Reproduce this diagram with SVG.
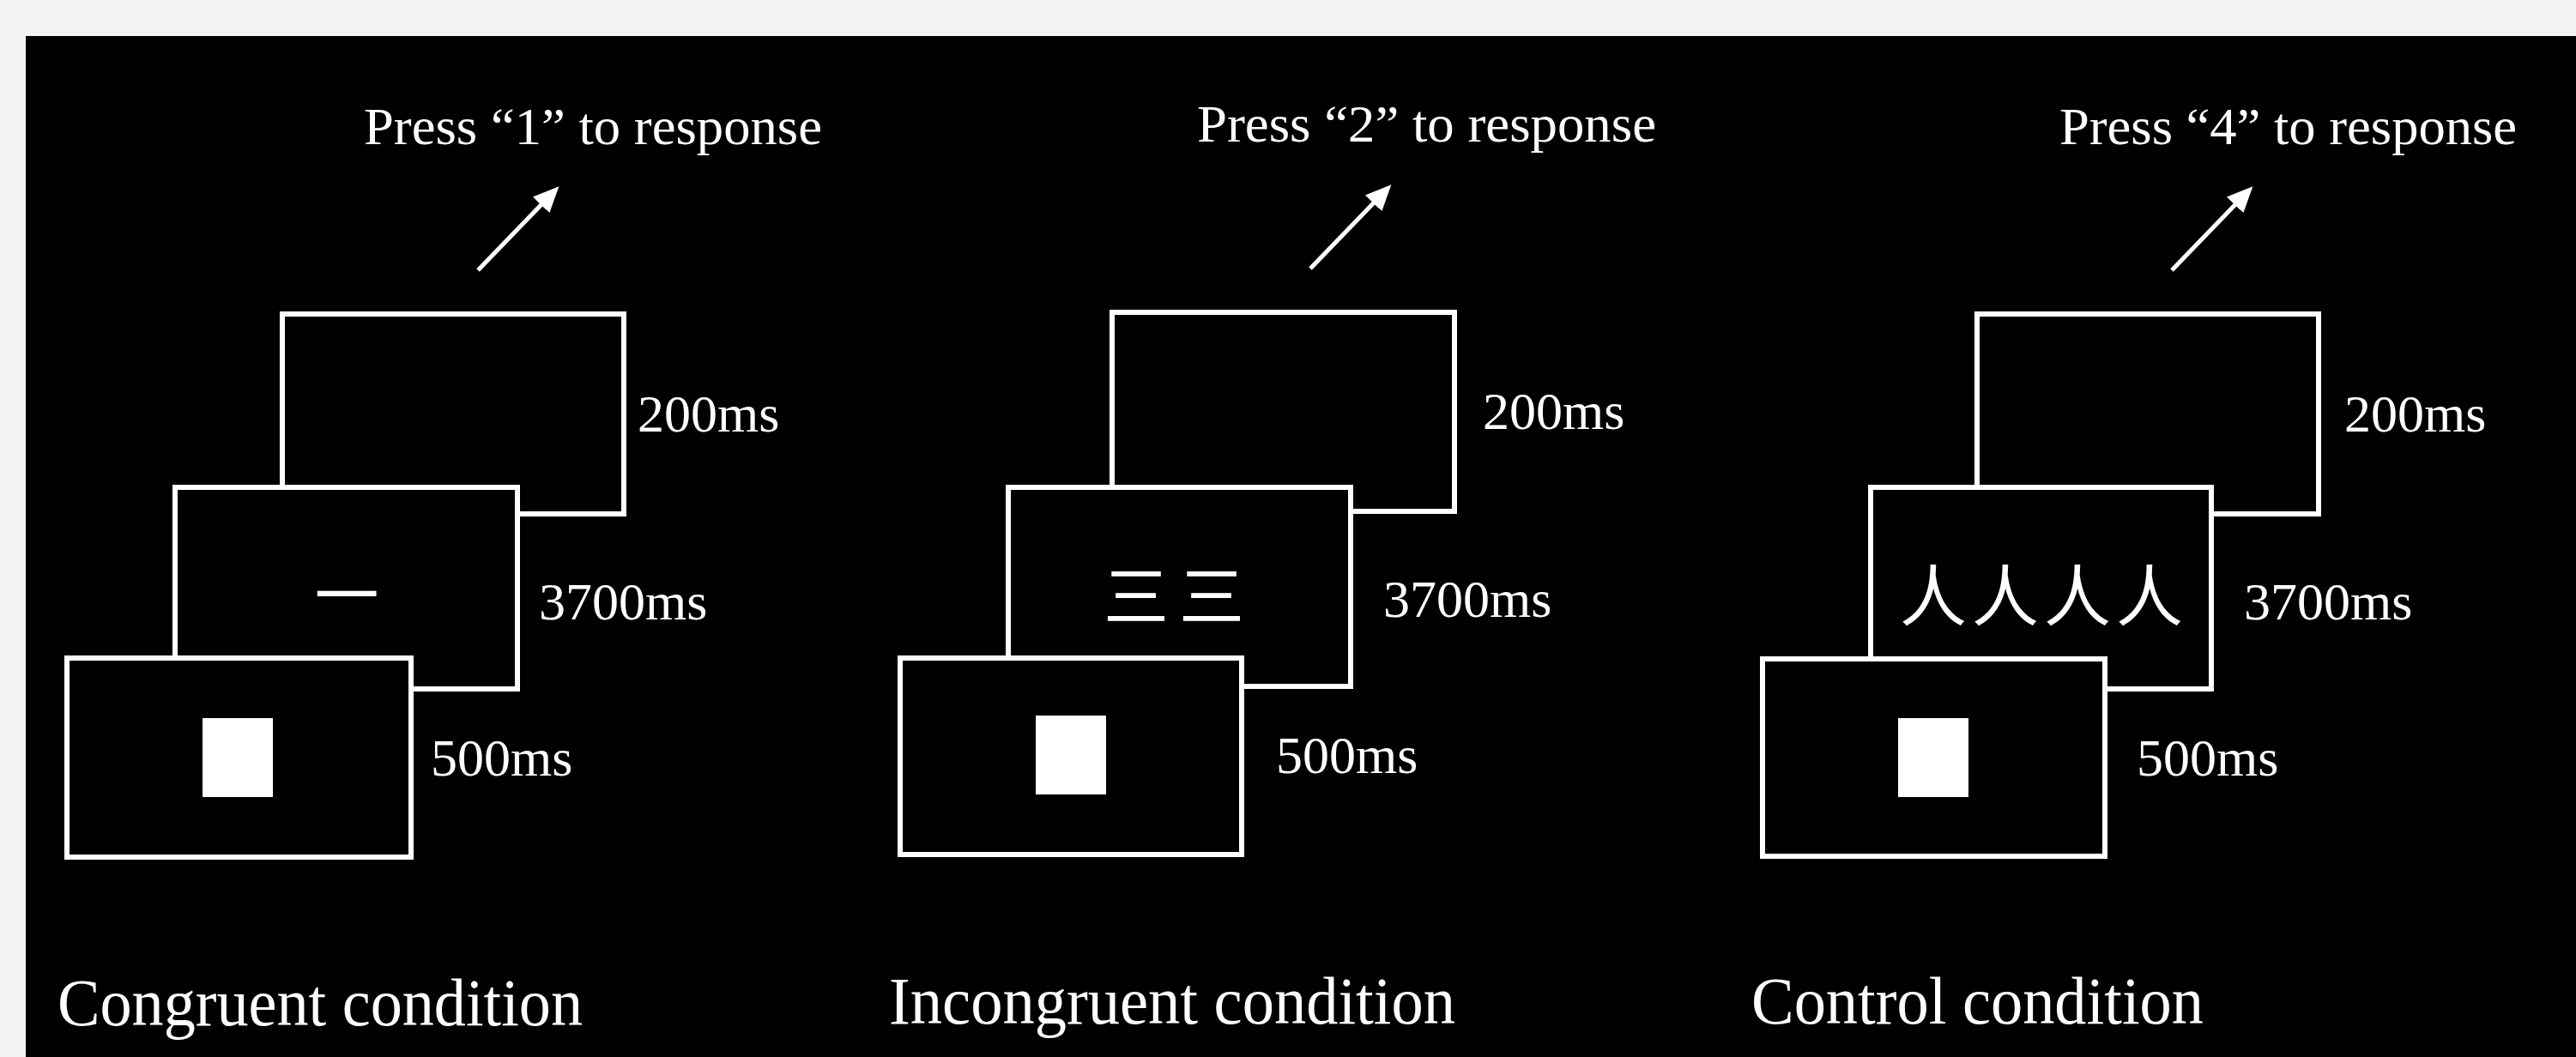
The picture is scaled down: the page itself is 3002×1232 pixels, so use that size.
<svg xmlns="http://www.w3.org/2000/svg" width="3002" height="1232" viewBox="0 0 3002 1232">
<style>
.t{font-family:"Liberation Serif","Times New Roman",serif;fill:#fff}
.lab{font-size:62px}
.cond{font-size:78px}
.scr{fill:#000;stroke:#fff;stroke-width:6}
.sq{fill:#fff}
.cjk{font-family:"Noto Sans CJK SC","Noto Sans CJK JP",sans-serif;fill:#fff;text-anchor:middle;dominant-baseline:central}
.arr{stroke:#fff;stroke-width:5;fill:none;marker-end:url(#ah)}
</style>
<defs>
<marker id="ah" markerWidth="6" markerHeight="6" refX="3" refY="3" orient="auto" markerUnits="strokeWidth" viewBox="0 0 6 6">
<path d="M0,0.3 L6,3 L0,5.7 Z" fill="#fff"/>
</marker>
</defs>
<rect x="0" y="0" width="3002" height="1232" fill="#f2f2f2"/>
<rect x="30" y="42" width="2972" height="1190" fill="#000"/>

<g id="connectors">
<line class="arr" x1="557" y1="315" x2="641" y2="228"/>
<line class="arr" x1="1527" y1="313" x2="1611" y2="226"/>
<line class="arr" x1="2531" y1="315" x2="2615" y2="228"/>
</g>

<!-- Congruent -->
<g id="congruent-blank">
<rect class="scr" x="329" y="366" width="398" height="233"/>
<text class="t lab" x="743" y="503">200ms</text>
</g>
<g id="congruent-word">
<rect class="scr" x="204" y="568" width="399" height="235"/>
<text class="cjk" x="404" y="688" font-size="75">一</text>
<text class="t lab" x="628" y="722">3700ms</text>
</g>
<g id="congruent-fixation">
<rect class="scr" x="78" y="767" width="401" height="232"/>
<rect class="sq" x="236" y="837" width="82" height="92"/>
<text class="t lab" x="502" y="904">500ms</text>
</g>
<g id="congruent-response">
<text class="t lab" x="424" y="168" textLength="534" lengthAdjust="spacingAndGlyphs">Press “1” to response</text>
</g>
<g id="congruent-title">
<text class="t cond" x="67" y="1195" textLength="612" lengthAdjust="spacingAndGlyphs">Congruent condition</text>
</g>

<!-- Incongruent -->
<g id="incongruent-blank">
<rect class="scr" x="1296" y="364" width="399" height="232"/>
<text class="t lab" x="1728" y="500">200ms</text>
</g>
<g id="incongruent-word">
<rect class="scr" x="1175" y="568" width="399" height="232"/>
<text class="cjk" x="1374" y="690" font-size="76" letter-spacing="12">三三</text>
<text class="t lab" x="1612" y="719">3700ms</text>
</g>
<g id="incongruent-fixation">
<rect class="scr" x="1049" y="767" width="398" height="229"/>
<rect class="sq" x="1207" y="834" width="82" height="92"/>
<text class="t lab" x="1487" y="901">500ms</text>
</g>
<g id="incongruent-response">
<text class="t lab" x="1395" y="165" textLength="535" lengthAdjust="spacingAndGlyphs">Press “2” to response</text>
</g>
<g id="incongruent-title">
<text class="t cond" x="1036" y="1193" textLength="660" lengthAdjust="spacingAndGlyphs">Incongruent condition</text>
</g>

<!-- Control -->
<g id="control-blank">
<rect class="scr" x="2304" y="366" width="398" height="233"/>
<text class="t lab" x="2732" y="503">200ms</text>
</g>
<g id="control-word">
<rect class="scr" x="2180" y="568" width="397" height="235"/>
<text class="cjk" x="2382" y="690" font-size="78" letter-spacing="6">人人人人</text>
<text class="t lab" x="2615" y="722">3700ms</text>
</g>
<g id="control-fixation">
<rect class="scr" x="2054" y="768" width="399" height="230"/>
<rect class="sq" x="2212" y="837" width="82" height="92"/>
<text class="t lab" x="2490" y="904">500ms</text>
</g>
<g id="control-response">
<text class="t lab" x="2400" y="168" textLength="533" lengthAdjust="spacingAndGlyphs">Press “4” to response</text>
</g>
<g id="control-title">
<text class="t cond" x="2041" y="1193" textLength="527" lengthAdjust="spacingAndGlyphs">Control condition</text>
</g>
</svg>
